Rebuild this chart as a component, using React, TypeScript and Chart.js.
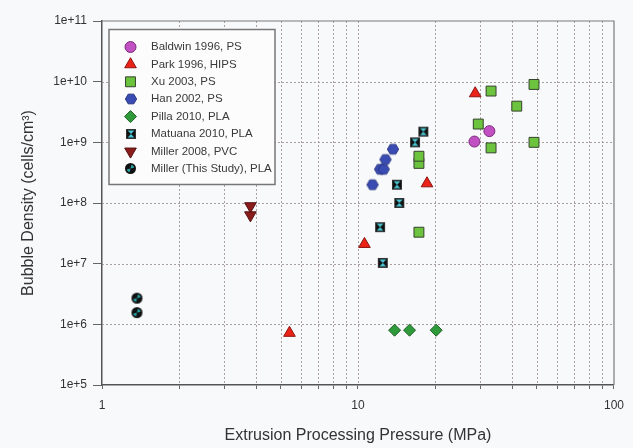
import React, { useEffect, useRef } from 'react';
import { Chart, registerables } from 'chart.js';

Chart.register(...registerables);

// ---- data ----
const baldwinX = [28.5, 32.6];
const baldwinY = [1.03e9, 1.53e9];
const parkX = [5.4, 10.6, 18.6, 28.7];
const parkY = [7.2e5, 2.1e7, 2.1e8, 6.4e9];
const xuX = [17.3, 17.3, 17.3, 29.5, 33.1, 33.1, 41.7, 48.7, 48.7];
const xuY = [3.3e7, 4.5e8, 5.9e8, 2.0e9, 8.1e8, 7.0e9, 3.95e9, 1.0e9, 9.0e9];
const hanX = [11.4, 12.2, 12.6, 12.8, 13.7];
const hanY = [2.0e8, 3.6e8, 3.6e8, 5.2e8, 7.7e8];
const pillaX = [13.9, 15.9, 20.2];
const pillaY = [8.0e5, 8.0e5, 8.0e5];
const matuanaX = [12.5, 12.2, 14.5, 14.2, 16.7, 18.0];
const matuanaY = [1.03e7, 4.0e7, 1.0e8, 2.0e8, 1.0e9, 1.5e9];
const miller2008X = [3.8, 3.8];
const miller2008Y = [8.9e7, 6.3e7];
const millerStudyX = [1.37, 1.37];
const millerStudyY = [2.7e6, 1.56e6];

const seriesLabels = [
  'Baldwin 1996, PS',
  'Park 1996, HIPS',
  'Xu 2003, PS',
  'Han 2002, PS',
  'Pilla 2010, PLA',
  'Matuana 2010, PLA',
  'Miller 2008, PVC',
  'Miller (This Study), PLA',
];

const xTickValues = [1, 2, 3, 4, 5, 6, 7, 8, 9, 10, 20, 30, 40, 50, 60, 70, 80, 90, 100];
const xLabelValues = [1, 10, 100];
const xLabelTexts = ['1', '10', '100'];
const yTickValues = [1e5, 1e6, 1e7, 1e8, 1e9, 1e10, 1e11];
const yTickLabels = ['1e+5', '1e+6', '1e+7', '1e+8', '1e+9', '1e+10', '1e+11'];

const FONT = "'Liberation Sans', Arial, sans-serif";

function pts(xs: number[], ys: number[]) {
  return xs.map((x, i) => ({ x, y: ys[i] }));
}

function makeCanvas(size: number) {
  const c = document.createElement('canvas');
  c.width = size;
  c.height = size;
  return c;
}

function makeHexagon(r: number, fill: string, stroke: string) {
  const s = Math.ceil(2 * r + 2);
  const c = makeCanvas(s);
  const g = c.getContext('2d')!;
  const cx = s / 2, cy = s / 2;
  g.beginPath();
  for (let i = 0; i < 6; i++) {
    const a = (Math.PI / 3) * i;
    const px = cx + r * Math.cos(a);
    const py = cy + r * Math.sin(a);
    if (i === 0) g.moveTo(px, py); else g.lineTo(px, py);
  }
  g.closePath();
  g.fillStyle = fill;
  g.fill();
  g.lineWidth = 1;
  g.strokeStyle = stroke;
  g.stroke();
  return c;
}

function makeMatuana(side: number) {
  const s = side + 2;
  const c = makeCanvas(s);
  const g = c.getContext('2d')!;
  const x0 = 1, y0 = 1, x1 = 1 + side, y1 = 1 + side;
  g.fillStyle = '#111';
  g.fillRect(x0, y0, side, side);
  const ins = 1.6;
  const cx = s / 2, cy = s / 2;
  g.fillStyle = '#4cc8d6';
  g.beginPath();
  g.moveTo(x0 + ins, y0 + ins);
  g.lineTo(x1 - ins, y0 + ins);
  g.lineTo(cx, cy);
  g.closePath();
  g.fill();
  g.beginPath();
  g.moveTo(x0 + ins, y1 - ins);
  g.lineTo(x1 - ins, y1 - ins);
  g.lineTo(cx, cy);
  g.closePath();
  g.fill();
  g.strokeStyle = '#333';
  g.lineWidth = 1;
  g.strokeRect(x0 + 0.5, y0 + 0.5, side - 1, side - 1);
  return c;
}

function makeBall(r: number) {
  const s = Math.ceil(2 * r + 2);
  const c = makeCanvas(s);
  const g = c.getContext('2d')!;
  const cx = s / 2, cy = s / 2;
  g.beginPath();
  g.arc(cx, cy, r, 0, Math.PI * 2);
  g.fillStyle = '#111';
  g.fill();
  g.fillStyle = '#2aa6a6';
  g.beginPath();
  g.moveTo(cx, cy);
  g.arc(cx, cy, r - 1.6, -Math.PI / 2 + 0.25, -0.25);
  g.closePath();
  g.fill();
  g.beginPath();
  g.moveTo(cx, cy);
  g.arc(cx, cy, r - 1.6, Math.PI / 2 + 0.25, Math.PI - 0.25);
  g.closePath();
  g.fill();
  return c;
}

function drawMarker(ctx: CanvasRenderingContext2D, ds: any, x: number, y: number) {
  const style = ds.pointStyle;
  const r = ds.pointRadius;
  ctx.save();
  if (typeof style !== 'string') {
    ctx.drawImage(style, Math.round(x - style.width / 2), Math.round(y - style.height / 2));
    ctx.restore();
    return;
  }
  ctx.fillStyle = ds.backgroundColor;
  ctx.strokeStyle = ds.borderColor;
  ctx.lineWidth = ds.borderWidth;
  ctx.beginPath();
  if (style === 'circle') {
    ctx.arc(x, y, r, 0, Math.PI * 2);
  } else if (style === 'triangle') {
    let rad = ((ds.rotation || 0) * Math.PI) / 180;
    for (let i = 0; i < 3; i++) {
      const px = x + Math.sin(rad) * r;
      const py = y - Math.cos(rad) * r;
      if (i === 0) ctx.moveTo(px, py); else ctx.lineTo(px, py);
      rad += (2 * Math.PI) / 3;
    }
    ctx.closePath();
  } else if (style === 'rect') {
    const h = Math.SQRT1_2 * r;
    ctx.rect(x - h, y - h, 2 * h, 2 * h);
  } else if (style === 'rectRot') {
    ctx.moveTo(x - r, y);
    ctx.lineTo(x, y - r);
    ctx.lineTo(x + r, y);
    ctx.lineTo(x, y + r);
    ctx.closePath();
  }
  ctx.fill();
  ctx.stroke();
  ctx.restore();
}

const backgroundPlugin = {
  id: 'bgFill',
  beforeDraw(chart: any) {
    const { ctx, width, height } = chart;
    ctx.save();
    ctx.fillStyle = '#f8f9fb';
    ctx.fillRect(0, 0, width, height);
    ctx.restore();
  },
};

const gridPlugin = {
  id: 'dottedGrid',
  beforeDatasetsDraw(chart: any) {
    const { ctx, chartArea, scales } = chart;
    const xs = scales.x, ys = scales.y;
    ctx.save();
    ctx.setLineDash([2, 2]);
    ctx.strokeStyle = 'rgba(150,138,138,0.8)';
    ctx.lineWidth = 1;
    xTickValues.forEach((v) => {
      if (v <= 1 || v >= 100) return;
      const px = Math.round(xs.getPixelForValue(v)) + 0.5;
      ctx.beginPath();
      ctx.moveTo(px, chartArea.top);
      ctx.lineTo(px, chartArea.bottom);
      ctx.stroke();
    });
    yTickValues.forEach((v) => {
      if (v <= 1e5 || v >= 1e11) return;
      const py = Math.round(ys.getPixelForValue(v)) + 0.5;
      ctx.beginPath();
      ctx.moveTo(chartArea.left, py);
      ctx.lineTo(chartArea.right, py);
      ctx.stroke();
    });
    ctx.setLineDash([]);
    ctx.strokeStyle = '#7a7a7a';
    ctx.lineWidth = 1.2;
    ctx.beginPath();
    ctx.moveTo(chartArea.left, chartArea.top);
    ctx.lineTo(chartArea.right, chartArea.top);
    ctx.lineTo(chartArea.right, chartArea.bottom);
    ctx.stroke();
    ctx.restore();
  },
};

const legendPlugin = {
  id: 'insideLegend',
  afterDatasetsDraw(chart: any) {
    const { ctx, chartArea } = chart;
    const bx = chartArea.left + 7;
    const by = chartArea.top + 8.5;
    const bw = 166;
    const bh = 155;
    ctx.save();
    ctx.fillStyle = '#fcfcfd';
    ctx.fillRect(bx, by, bw, bh);
    ctx.strokeStyle = '#777';
    ctx.lineWidth = 1.5;
    ctx.strokeRect(bx, by, bw, bh);
    ctx.font = `11.5px ${FONT}`;
    ctx.fillStyle = '#3a3a3a';
    ctx.textBaseline = 'middle';
    ctx.textAlign = 'left';
    chart.data.datasets.forEach((ds: any, i: number) => {
      const cy = by + 17.5 + i * 17.4;
      drawMarker(ctx, ds, bx + 21.5, cy);
      ctx.fillStyle = '#3a3a3a';
      ctx.fillText(ds.label, bx + 42, cy);
    });
    ctx.restore();
  },
};

export default function App() {
  const ref = useRef<HTMLCanvasElement | null>(null);

  useEffect(() => {
    document.body.style.margin = '0';
    const canvas = ref.current;
    if (!canvas) return;

    const hexStyle = makeHexagon(5.6, '#3a4cb4', '#27357f');
    const matStyle = makeMatuana(10);
    const ballStyle = makeBall(5.5);

    const chart = new Chart(canvas, {
      type: 'scatter',
      data: {
        datasets: [
          { label: seriesLabels[0], data: pts(baldwinX, baldwinY), pointStyle: 'circle', pointRadius: 5.5, backgroundColor: '#c150c2', borderColor: '#7c2d7d', borderWidth: 1 },
          { label: seriesLabels[1], data: pts(parkX, parkY), pointStyle: 'triangle', pointRadius: 6.7, backgroundColor: '#ea2218', borderColor: '#8e1410', borderWidth: 1 },
          { label: seriesLabels[2], data: pts(xuX, xuY), pointStyle: 'rect', pointRadius: 7, backgroundColor: '#6cc43e', borderColor: '#34422c', borderWidth: 1 },
          { label: seriesLabels[3], data: pts(hanX, hanY), pointStyle: hexStyle, pointRadius: 6, backgroundColor: '#3a4cb4', borderColor: '#27357f', borderWidth: 1 },
          { label: seriesLabels[4], data: pts(pillaX, pillaY), pointStyle: 'rectRot', pointRadius: 6, backgroundColor: '#2f9a3a', borderColor: '#1f5f26', borderWidth: 1 },
          { label: seriesLabels[5], data: pts(matuanaX, matuanaY), pointStyle: matStyle, pointRadius: 6, backgroundColor: '#111', borderColor: '#333', borderWidth: 1 },
          { label: seriesLabels[6], data: pts(miller2008X, miller2008Y), pointStyle: 'triangle', rotation: 180, pointRotation: 180, pointRadius: 6.7, backgroundColor: '#8a1c1c', borderColor: '#561010', borderWidth: 1 },
          { label: seriesLabels[7], data: pts(millerStudyX, millerStudyY), pointStyle: ballStyle, pointRadius: 6, backgroundColor: '#111', borderColor: '#111', borderWidth: 1 },
        ] as any,
      },
      options: {
        responsive: false,
        animation: false,
        layout: { padding: { top: 21, right: 13, left: 0, bottom: 0 } },
        plugins: {
          legend: { display: false },
          tooltip: { enabled: false },
        },
        scales: {
          x: {
            type: 'logarithmic',
            min: 1,
            max: 100,
            afterBuildTicks: (s: any) => {
              s.ticks = xTickValues.map((v) => ({ value: v }));
            },
            afterFit: (s: any) => {
              s.height = 63;
            },
            ticks: {
              autoSkip: false,
              maxRotation: 0,
              padding: 9,
              color: '#333',
              font: { family: FONT, size: 12 },
              callback: (v: any) => {
                const k = xLabelValues.indexOf(Number(v));
                return k >= 0 ? xLabelTexts[k] : '';
              },
            },
            grid: { drawOnChartArea: false, drawTicks: true, tickLength: 4, color: '#666', lineWidth: 1 },
            border: { color: '#555', width: 1.5 },
            title: {
              display: true,
              text: 'Extrusion Processing Pressure (MPa)',
              color: '#333',
              font: { family: FONT, size: 16 },
              padding: { top: 0, bottom: 3 },
            },
          },
          y: {
            type: 'logarithmic',
            min: 1e5,
            max: 1e11,
            afterBuildTicks: (s: any) => {
              s.ticks = yTickValues.map((v) => ({ value: v }));
            },
            afterFit: (s: any) => {
              s.width = 102;
            },
            ticks: {
              autoSkip: false,
              padding: 6,
              color: '#333',
              font: { family: FONT, size: 12 },
              callback: (v: any) => {
                const k = yTickValues.indexOf(Number(v));
                return k >= 0 ? yTickLabels[k] : '';
              },
            },
            grid: { drawOnChartArea: false, drawTicks: true, tickLength: 9, color: '#666', lineWidth: 1 },
            border: { color: '#555', width: 1.5 },
            title: {
              display: true,
              text: 'Bubble Density (cells/cm\u00B3)',
              color: '#333',
              font: { family: FONT, size: 16 },
              padding: { top: 19, bottom: 0 },
            },
          },
        },
      } as any,
      plugins: [backgroundPlugin, gridPlugin, legendPlugin],
    });

    return () => {
      chart.destroy();
    };
  }, []);

  return <canvas ref={ref} width={633} height={448} style={{ display: 'block' }} />;
}
